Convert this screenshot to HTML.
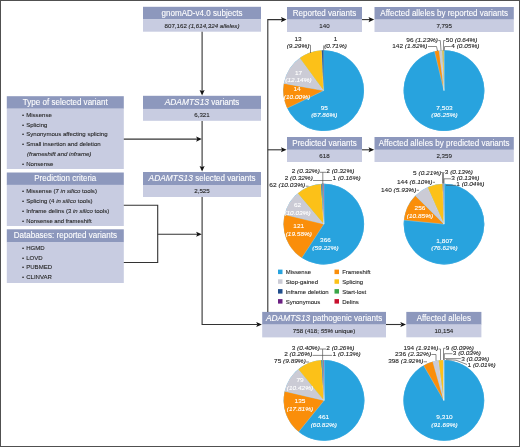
<!DOCTYPE html>
<html><head><meta charset="utf-8"><title>Figure</title>
<style>
html,body{margin:0;padding:0;background:#fff;}
body{width:520px;height:447px;overflow:hidden;position:relative;}
svg{display:block;position:absolute;left:0;top:0;font-family:"Liberation Sans",sans-serif;}
.frame{position:absolute;left:0;top:0;width:518px;height:445px;border:1px solid #505050;}
</style></head><body>
<svg width="520" height="447" viewBox="0 0 520 447">
<rect width="520" height="447" fill="#fff"/>
<rect x="143" y="6.8" width="118" height="12.599999999999998" fill="#8d98bd"/>
<rect x="143" y="19.2" width="118" height="12.5" fill="#c8cce1"/>
<text y="15.60" font-size="8.6" fill="#fff" stroke="#fff" stroke-width="0.1"><tspan x="161.56" textLength="80.88" lengthAdjust="spacingAndGlyphs">gnomAD-v4.0 subjects</tspan></text>
<text y="27.65" font-size="5.9" fill="#262626" stroke="#262626" stroke-width="0.1"><tspan x="164.55" textLength="22.34" lengthAdjust="spacingAndGlyphs">807,162</tspan> <tspan x="188.60" textLength="50.85" lengthAdjust="spacingAndGlyphs" font-style="italic">(1,614,324 alleles)</tspan></text>
<rect x="143" y="95.8" width="118" height="13.300000000000008" fill="#8d98bd"/>
<rect x="143" y="108.9" width="118" height="11.899999999999991" fill="#c8cce1"/>
<text y="104.95" font-size="8.6" fill="#fff" stroke="#fff" stroke-width="0.1"><tspan x="164.63" textLength="44.36" lengthAdjust="spacingAndGlyphs" font-style="italic">ADAMTS13</tspan> <tspan x="211.22" textLength="28.15" lengthAdjust="spacingAndGlyphs">variants</tspan></text>
<text y="117.05" font-size="5.9" fill="#262626" stroke="#262626" stroke-width="0.1"><tspan x="194.27" textLength="15.47" lengthAdjust="spacingAndGlyphs">6,321</tspan></text>
<rect x="143" y="172" width="118" height="13.2" fill="#8d98bd"/>
<rect x="143" y="185" width="118" height="12" fill="#c8cce1"/>
<text y="181.10" font-size="8.6" fill="#fff" stroke="#fff" stroke-width="0.1"><tspan x="148.54" textLength="44.36" lengthAdjust="spacingAndGlyphs" font-style="italic">ADAMTS13</tspan> <tspan x="195.13" textLength="60.33" lengthAdjust="spacingAndGlyphs">selected variants</tspan></text>
<text y="193.20" font-size="5.9" fill="#262626" stroke="#262626" stroke-width="0.1"><tspan x="194.27" textLength="15.47" lengthAdjust="spacingAndGlyphs">2,525</tspan></text>
<rect x="287" y="7" width="75" height="12.7" fill="#8d98bd"/>
<rect x="287" y="19.5" width="75" height="12.5" fill="#c8cce1"/>
<text y="15.85" font-size="8.6" fill="#fff" stroke="#fff" stroke-width="0.1"><tspan x="292.77" textLength="63.46" lengthAdjust="spacingAndGlyphs">Reported variants</tspan></text>
<text y="27.95" font-size="5.9" fill="#262626" stroke="#262626" stroke-width="0.1"><tspan x="319.34" textLength="10.31" lengthAdjust="spacingAndGlyphs">140</tspan></text>
<rect x="374.5" y="7" width="139.29999999999995" height="12.7" fill="#8d98bd"/>
<rect x="374.5" y="19.5" width="139.29999999999995" height="12.5" fill="#c8cce1"/>
<text y="15.85" font-size="8.6" fill="#fff" stroke="#fff" stroke-width="0.1"><tspan x="380.31" textLength="127.67" lengthAdjust="spacingAndGlyphs">Affected alleles by reported variants</tspan></text>
<text y="27.95" font-size="5.9" fill="#262626" stroke="#262626" stroke-width="0.1"><tspan x="436.42" textLength="15.47" lengthAdjust="spacingAndGlyphs">7,795</tspan></text>
<rect x="287" y="137" width="75" height="12.899999999999988" fill="#8d98bd"/>
<rect x="287" y="149.7" width="75" height="12.300000000000011" fill="#c8cce1"/>
<text y="145.95" font-size="8.6" fill="#fff" stroke="#fff" stroke-width="0.1"><tspan x="292.32" textLength="64.35" lengthAdjust="spacingAndGlyphs">Predicted variants</tspan></text>
<text y="158.05" font-size="5.9" fill="#262626" stroke="#262626" stroke-width="0.1"><tspan x="319.34" textLength="10.31" lengthAdjust="spacingAndGlyphs">618</tspan></text>
<rect x="374.5" y="137" width="139.29999999999995" height="12.899999999999988" fill="#8d98bd"/>
<rect x="374.5" y="149.7" width="139.29999999999995" height="12.300000000000011" fill="#c8cce1"/>
<text y="145.95" font-size="8.6" fill="#fff" stroke="#fff" stroke-width="0.1"><tspan x="378.75" textLength="130.80" lengthAdjust="spacingAndGlyphs">Affected alleles by predicted variants</tspan></text>
<text y="158.05" font-size="5.9" fill="#262626" stroke="#262626" stroke-width="0.1"><tspan x="436.42" textLength="15.47" lengthAdjust="spacingAndGlyphs">2,359</tspan></text>
<rect x="262.2" y="311.9" width="123.80000000000001" height="12.800000000000022" fill="#8d98bd"/>
<rect x="262.2" y="324.5" width="123.80000000000001" height="12.899999999999977" fill="#c8cce1"/>
<text y="320.80" font-size="8.6" fill="#fff" stroke="#fff" stroke-width="0.1"><tspan x="265.94" textLength="44.36" lengthAdjust="spacingAndGlyphs" font-style="italic">ADAMTS13</tspan> <tspan x="312.53" textLength="69.73" lengthAdjust="spacingAndGlyphs">pathogenic variants</tspan></text>
<text y="333.15" font-size="5.9" fill="#262626" stroke="#262626" stroke-width="0.1"><tspan x="292.83" textLength="26.11" lengthAdjust="spacingAndGlyphs">758 (418;</tspan> <tspan x="320.66" textLength="12.37" lengthAdjust="spacingAndGlyphs" font-style="italic">55%</tspan> <tspan x="334.75" textLength="20.62" lengthAdjust="spacingAndGlyphs">unique)</tspan></text>
<rect x="406.3" y="311.9" width="75.09999999999997" height="12.800000000000022" fill="#8d98bd"/>
<rect x="406.3" y="324.5" width="75.09999999999997" height="12.800000000000011" fill="#c8cce1"/>
<text y="320.80" font-size="8.6" fill="#fff" stroke="#fff" stroke-width="0.1"><tspan x="416.66" textLength="54.38" lengthAdjust="spacingAndGlyphs">Affected alleles</tspan></text>
<text y="333.10" font-size="5.9" fill="#262626" stroke="#262626" stroke-width="0.1"><tspan x="434.40" textLength="18.90" lengthAdjust="spacingAndGlyphs">10,154</tspan></text>
<rect x="6.8" y="96.2" width="117.0" height="12.59999999999999" fill="#8d98bd"/>
<rect x="6.8" y="108.6" width="117.0" height="60.400000000000006" fill="#c8cce1"/>
<text y="105.00" font-size="8.6" fill="#fff" stroke="#fff" stroke-width="0.1"><tspan x="22.84" textLength="84.91" lengthAdjust="spacingAndGlyphs">Type of selected variant</tspan></text>
<text y="117.00" font-size="5.9" fill="#262626" stroke="#262626" stroke-width="0.1"><tspan x="22.00" textLength="2.10" lengthAdjust="spacingAndGlyphs">•</tspan></text>
<text y="117.00" font-size="5.9" fill="#262626" stroke="#262626" stroke-width="0.1"><tspan x="26.20" textLength="25.60" lengthAdjust="spacingAndGlyphs">Missense</tspan></text>
<text y="126.70" font-size="5.9" fill="#262626" stroke="#262626" stroke-width="0.1"><tspan x="22.00" textLength="2.10" lengthAdjust="spacingAndGlyphs">•</tspan></text>
<text y="126.70" font-size="5.9" fill="#262626" stroke="#262626" stroke-width="0.1"><tspan x="26.20" textLength="21.22" lengthAdjust="spacingAndGlyphs">Splicing</tspan></text>
<text y="136.20" font-size="5.9" fill="#262626" stroke="#262626" stroke-width="0.1"><tspan x="22.00" textLength="2.10" lengthAdjust="spacingAndGlyphs">•</tspan></text>
<text y="136.20" font-size="5.9" fill="#262626" stroke="#262626" stroke-width="0.1"><tspan x="26.20" textLength="81.41" lengthAdjust="spacingAndGlyphs">Synonymous affecting splicing</tspan></text>
<text y="146.00" font-size="5.9" fill="#262626" stroke="#262626" stroke-width="0.1"><tspan x="22.00" textLength="2.10" lengthAdjust="spacingAndGlyphs">•</tspan></text>
<text y="146.00" font-size="5.9" fill="#262626" stroke="#262626" stroke-width="0.1"><tspan x="26.20" textLength="74.45" lengthAdjust="spacingAndGlyphs">Small insertion and deletion</tspan></text>
<text y="155.50" font-size="5.9" fill="#262626" stroke="#262626" stroke-width="0.1"><tspan x="27.00" textLength="64.33" lengthAdjust="spacingAndGlyphs" font-style="italic">(frameshift and inframe)</tspan></text>
<text y="165.50" font-size="5.9" fill="#262626" stroke="#262626" stroke-width="0.1"><tspan x="22.00" textLength="2.10" lengthAdjust="spacingAndGlyphs">•</tspan></text>
<text y="165.50" font-size="5.9" fill="#262626" stroke="#262626" stroke-width="0.1"><tspan x="26.20" textLength="27.29" lengthAdjust="spacingAndGlyphs">Nonsense</tspan></text>
<rect x="6.8" y="172.5" width="117.0" height="12.50000000000001" fill="#8d98bd"/>
<rect x="6.8" y="184.8" width="117.0" height="41.19999999999999" fill="#c8cce1"/>
<text y="181.25" font-size="8.6" fill="#fff" stroke="#fff" stroke-width="0.1"><tspan x="34.24" textLength="62.11" lengthAdjust="spacingAndGlyphs">Prediction criteria</tspan></text>
<text y="193.40" font-size="5.9" fill="#262626" stroke="#262626" stroke-width="0.1"><tspan x="22.00" textLength="2.10" lengthAdjust="spacingAndGlyphs">•</tspan></text>
<text y="193.40" font-size="5.9" fill="#262626" stroke="#262626" stroke-width="0.1"><tspan x="26.20" textLength="32.67" lengthAdjust="spacingAndGlyphs">Missense (7</tspan> <tspan x="60.55" textLength="19.87" lengthAdjust="spacingAndGlyphs" font-style="italic">in silico</tspan> <tspan x="82.10" textLength="14.82" lengthAdjust="spacingAndGlyphs">tools)</tspan></text>
<text y="202.90" font-size="5.9" fill="#262626" stroke="#262626" stroke-width="0.1"><tspan x="22.00" textLength="2.10" lengthAdjust="spacingAndGlyphs">•</tspan></text>
<text y="202.90" font-size="5.9" fill="#262626" stroke="#262626" stroke-width="0.1"><tspan x="26.20" textLength="28.29" lengthAdjust="spacingAndGlyphs">Splicing (4</tspan> <tspan x="56.18" textLength="19.87" lengthAdjust="spacingAndGlyphs" font-style="italic">in silico</tspan> <tspan x="77.73" textLength="14.82" lengthAdjust="spacingAndGlyphs">tools)</tspan></text>
<text y="212.70" font-size="5.9" fill="#262626" stroke="#262626" stroke-width="0.1"><tspan x="22.00" textLength="2.10" lengthAdjust="spacingAndGlyphs">•</tspan></text>
<text y="212.70" font-size="5.9" fill="#262626" stroke="#262626" stroke-width="0.1"><tspan x="26.20" textLength="45.13" lengthAdjust="spacingAndGlyphs">Inframe delins (3</tspan> <tspan x="73.02" textLength="19.87" lengthAdjust="spacingAndGlyphs" font-style="italic">in silico</tspan> <tspan x="94.57" textLength="14.82" lengthAdjust="spacingAndGlyphs">tools)</tspan></text>
<text y="222.50" font-size="5.9" fill="#262626" stroke="#262626" stroke-width="0.1"><tspan x="22.00" textLength="2.10" lengthAdjust="spacingAndGlyphs">•</tspan></text>
<text y="222.50" font-size="5.9" fill="#262626" stroke="#262626" stroke-width="0.1"><tspan x="26.20" textLength="65.35" lengthAdjust="spacingAndGlyphs">Nonsense and frameshift</tspan></text>
<rect x="6.8" y="229.3" width="117.0" height="12.899999999999988" fill="#8d98bd"/>
<rect x="6.8" y="242" width="117.0" height="41" fill="#c8cce1"/>
<text y="238.25" font-size="8.6" fill="#fff" stroke="#fff" stroke-width="0.1"><tspan x="13.68" textLength="103.24" lengthAdjust="spacingAndGlyphs">Databases: reported variants</tspan></text>
<text y="249.70" font-size="5.9" fill="#262626" stroke="#262626" stroke-width="0.1"><tspan x="22.00" textLength="2.10" lengthAdjust="spacingAndGlyphs">•</tspan></text>
<text y="249.70" font-size="5.9" fill="#262626" stroke="#262626" stroke-width="0.1"><tspan x="26.20" textLength="18.51" lengthAdjust="spacingAndGlyphs">HGMD</tspan></text>
<text y="259.70" font-size="5.9" fill="#262626" stroke="#262626" stroke-width="0.1"><tspan x="22.00" textLength="2.10" lengthAdjust="spacingAndGlyphs">•</tspan></text>
<text y="259.70" font-size="5.9" fill="#262626" stroke="#262626" stroke-width="0.1"><tspan x="26.20" textLength="16.50" lengthAdjust="spacingAndGlyphs">LOVD</tspan></text>
<text y="269.20" font-size="5.9" fill="#262626" stroke="#262626" stroke-width="0.1"><tspan x="22.00" textLength="2.10" lengthAdjust="spacingAndGlyphs">•</tspan></text>
<text y="269.20" font-size="5.9" fill="#262626" stroke="#262626" stroke-width="0.1"><tspan x="26.20" textLength="25.93" lengthAdjust="spacingAndGlyphs">PUBMED</tspan></text>
<text y="279.00" font-size="5.9" fill="#262626" stroke="#262626" stroke-width="0.1"><tspan x="22.00" textLength="2.10" lengthAdjust="spacingAndGlyphs">•</tspan></text>
<text y="279.00" font-size="5.9" fill="#262626" stroke="#262626" stroke-width="0.1"><tspan x="26.20" textLength="25.82" lengthAdjust="spacingAndGlyphs">CLINVAR</tspan></text>
<path d="M202.1 31.7 L202.1 92" fill="none" stroke="#333" stroke-width="1.1"/>
<polygon points="202.1,95.6 199.54999999999998,89.89999999999999 202.1,91.1 204.65,89.89999999999999" fill="#141414"/>
<path d="M202.1 121 L202.1 168" fill="none" stroke="#333" stroke-width="1.1"/>
<polygon points="202.1,171.6 199.54999999999998,165.9 202.1,167.1 204.65,165.9" fill="#141414"/>
<path d="M123.8 139.1 L198.1 139.1" fill="none" stroke="#333" stroke-width="1.1"/>
<polygon points="201.79999999999998,139.1 196.1,136.54999999999998 197.29999999999998,139.1 196.1,141.65" fill="#141414"/>
<path d="M202.1 197 L202.1 324.5 L257.5 324.5" fill="none" stroke="#333" stroke-width="1.1"/>
<polygon points="261.9,324.5 256.2,321.95 257.4,324.5 256.2,327.05" fill="#141414"/>
<path d="M123.8 205.3 L157.7 205.3 L157.7 262.5 L123.8 262.5" fill="none" stroke="#333" stroke-width="1.1"/>
<path d="M157.7 234.3 L198.1 234.3" fill="none" stroke="#333" stroke-width="1.1"/>
<polygon points="201.79999999999998,234.3 196.1,231.75 197.29999999999998,234.3 196.1,236.85000000000002" fill="#141414"/>
<path d="M282 19.6 L267.8 19.6 L267.8 311.9" fill="none" stroke="#333" stroke-width="1.1"/>
<polygon points="286.6,19.6 280.90000000000003,17.05 282.1,19.6 280.90000000000003,22.150000000000002" fill="#141414"/>
<path d="M267.8 149.8 L282 149.8" fill="none" stroke="#333" stroke-width="1.1"/>
<polygon points="286.6,149.8 280.90000000000003,147.25 282.1,149.8 280.90000000000003,152.35000000000002" fill="#141414"/>
<path d="M362 19.6 L370 19.6" fill="none" stroke="#333" stroke-width="1.1"/>
<polygon points="374.2,19.6 368.5,17.05 369.7,19.6 368.5,22.150000000000002" fill="#141414"/>
<path d="M362 149.8 L370 149.8" fill="none" stroke="#333" stroke-width="1.1"/>
<polygon points="374.2,149.8 368.5,147.25 369.7,149.8 368.5,152.35000000000002" fill="#141414"/>
<path d="M386 324.5 L401 324.5" fill="none" stroke="#333" stroke-width="1.1"/>
<polygon points="406,324.5 400.3,321.95 401.5,324.5 400.3,327.05" fill="#141414"/>
<circle cx="323.6" cy="90.6" r="40.4" fill="#28a3de"/>
<path d="M323.6 90.6 L323.60 50.20 A40.4 40.4 0 1 1 287.20 108.13 Z" fill="#28a3de" stroke="#fff" stroke-opacity="0.6" stroke-width="0.25"/>
<path d="M323.6 90.6 L287.20 108.13 A40.4 40.4 0 0 1 283.85 83.39 Z" fill="#fa8e0a" stroke="#fff" stroke-opacity="0.6" stroke-width="0.25"/>
<path d="M323.6 90.6 L283.85 83.39 A40.4 40.4 0 0 1 299.85 57.92 Z" fill="#cbcbd5" stroke="#fff" stroke-opacity="0.6" stroke-width="0.25"/>
<path d="M323.6 90.6 L299.85 57.92 A40.4 40.4 0 0 1 321.79 50.24 Z" fill="#fcc118" stroke="#fff" stroke-opacity="0.6" stroke-width="0.25"/>
<path d="M323.6 90.6 L321.79 50.24 A40.4 40.4 0 0 1 323.60 50.20 Z" fill="#1f4e8c" stroke="#fff" stroke-opacity="0.6" stroke-width="0.25"/>
<text y="109.60" font-size="5.9" fill="#fff" stroke="#fff" stroke-width="0.1"><tspan x="320.70" textLength="7.21" lengthAdjust="spacingAndGlyphs">95</tspan></text>
<text y="117.40" font-size="5.9" fill="#fff" stroke="#fff" stroke-width="0.1"><tspan x="311.15" textLength="26.29" lengthAdjust="spacingAndGlyphs" font-style="italic">(67.86%)</tspan></text>
<text y="91.40" font-size="5.9" fill="#fff" stroke="#fff" stroke-width="0.1"><tspan x="293.40" textLength="7.21" lengthAdjust="spacingAndGlyphs">14</tspan></text>
<text y="99.20" font-size="5.9" fill="#fff" stroke="#fff" stroke-width="0.1"><tspan x="283.85" textLength="26.29" lengthAdjust="spacingAndGlyphs" font-style="italic">(10.00%)</tspan></text>
<text y="74.60" font-size="5.9" fill="#fff" stroke="#fff" stroke-width="0.1"><tspan x="294.90" textLength="7.21" lengthAdjust="spacingAndGlyphs">17</tspan></text>
<text y="82.40" font-size="5.9" fill="#fff" stroke="#fff" stroke-width="0.1"><tspan x="285.35" textLength="26.29" lengthAdjust="spacingAndGlyphs" font-style="italic">(12.14%)</tspan></text>
<text y="41.10" font-size="5.9" fill="#262626" stroke="#262626" stroke-width="0.1"><tspan x="294.40" textLength="7.21" lengthAdjust="spacingAndGlyphs">13</tspan></text>
<text y="48.20" font-size="5.9" fill="#262626" stroke="#262626" stroke-width="0.1"><tspan x="286.66" textLength="22.69" lengthAdjust="spacingAndGlyphs" font-style="italic">(9.29%)</tspan></text>
<text y="41.10" font-size="5.9" fill="#262626" stroke="#262626" stroke-width="0.1"><tspan x="333.70" textLength="3.60" lengthAdjust="spacingAndGlyphs">1</tspan></text>
<text y="48.20" font-size="5.9" fill="#262626" stroke="#262626" stroke-width="0.1"><tspan x="324.16" textLength="22.69" lengthAdjust="spacingAndGlyphs" font-style="italic">(0.71%)</tspan></text>
<path d="M308.8 44.8 L310.5 45.3 L310.5 53" fill="none" stroke="#4a4a4a" stroke-width="0.65"/>
<path d="M323.7 45.4 L323.7 50.5" fill="none" stroke="#4a4a4a" stroke-width="0.65"/>
<circle cx="444" cy="90.6" r="40.4" fill="#28a3de"/>
<path d="M444 90.6 L444.00 50.20 A40.4 40.4 0 1 1 434.58 51.31 Z" fill="#28a3de" stroke="#fff" stroke-opacity="0.6" stroke-width="0.25"/>
<path d="M444 90.6 L434.58 51.31 A40.4 40.4 0 0 1 439.13 50.49 Z" fill="#fa8e0a" stroke="#fff" stroke-opacity="0.6" stroke-width="0.25"/>
<path d="M444 90.6 L439.13 50.49 A40.4 40.4 0 0 1 442.24 50.24 Z" fill="#cbcbd5" stroke="#fff" stroke-opacity="0.6" stroke-width="0.25"/>
<path d="M444 90.6 L442.24 50.24 A40.4 40.4 0 0 1 443.87 50.20 Z" fill="#fcc118" stroke="#fff" stroke-opacity="0.6" stroke-width="0.25"/>
<path d="M444 90.6 L443.87 50.20 A40.4 40.4 0 0 1 444.00 50.20 Z" fill="#1f4e8c" stroke="#fff" stroke-opacity="0.6" stroke-width="0.25"/>
<text y="109.60" font-size="5.9" fill="#fff" stroke="#fff" stroke-width="0.1"><tspan x="436.39" textLength="16.22" lengthAdjust="spacingAndGlyphs">7,503</tspan></text>
<text y="117.40" font-size="5.9" fill="#fff" stroke="#fff" stroke-width="0.1"><tspan x="431.35" textLength="26.29" lengthAdjust="spacingAndGlyphs" font-style="italic">(96.25%)</tspan></text>
<text y="41.80" font-size="5.9" fill="#262626" stroke="#262626" stroke-width="0.1"><tspan x="406.30" textLength="7.21" lengthAdjust="spacingAndGlyphs">96</tspan> <tspan x="415.31" textLength="22.69" lengthAdjust="spacingAndGlyphs" font-style="italic">(1.23%)</tspan></text>
<text y="48.10" font-size="5.9" fill="#262626" stroke="#262626" stroke-width="0.1"><tspan x="392.20" textLength="10.81" lengthAdjust="spacingAndGlyphs">142</tspan> <tspan x="404.81" textLength="22.69" lengthAdjust="spacingAndGlyphs" font-style="italic">(1.82%)</tspan></text>
<text y="41.80" font-size="5.9" fill="#262626" stroke="#262626" stroke-width="0.1"><tspan x="445.80" textLength="7.21" lengthAdjust="spacingAndGlyphs">50</tspan> <tspan x="454.81" textLength="22.69" lengthAdjust="spacingAndGlyphs" font-style="italic">(0.64%)</tspan></text>
<text y="48.10" font-size="5.9" fill="#262626" stroke="#262626" stroke-width="0.1"><tspan x="451.30" textLength="3.60" lengthAdjust="spacingAndGlyphs">4</tspan> <tspan x="456.70" textLength="22.69" lengthAdjust="spacingAndGlyphs" font-style="italic">(0.05%)</tspan></text>
<path d="M428 46.5 L436.5 46.5 L437.5 51" fill="none" stroke="#4a4a4a" stroke-width="0.65"/>
<path d="M438.3 40.5 L440.3 40.5 L441 50.5" fill="none" stroke="#4a4a4a" stroke-width="0.65"/>
<path d="M445.5 40.5 L443.6 40.5 L443.4 50.5" fill="none" stroke="#4a4a4a" stroke-width="0.65"/>
<path d="M450.8 46.5 L444.6 46.5 L444.3 50.5" fill="none" stroke="#4a4a4a" stroke-width="0.65"/>
<circle cx="323.8" cy="224.1" r="40.3" fill="#28a3de"/>
<path d="M323.8 224.1 L323.80 183.80 A40.3 40.3 0 1 1 301.73 257.82 Z" fill="#28a3de" stroke="#fff" stroke-opacity="0.6" stroke-width="0.25"/>
<path d="M323.8 224.1 L301.73 257.82 A40.3 40.3 0 0 1 284.64 214.56 Z" fill="#fa8e0a" stroke="#fff" stroke-opacity="0.6" stroke-width="0.25"/>
<path d="M323.8 224.1 L284.64 214.56 A40.3 40.3 0 0 1 297.79 193.32 Z" fill="#cbcbd5" stroke="#fff" stroke-opacity="0.6" stroke-width="0.25"/>
<path d="M323.8 224.1 L297.79 193.32 A40.3 40.3 0 0 1 320.93 183.90 Z" fill="#fcc118" stroke="#fff" stroke-opacity="0.6" stroke-width="0.25"/>
<path d="M323.8 224.1 L320.93 183.90 A40.3 40.3 0 0 1 321.75 183.85 Z" fill="#1f4e8c" stroke="#fff" stroke-opacity="0.6" stroke-width="0.25"/>
<path d="M323.8 224.1 L321.75 183.85 A40.3 40.3 0 0 1 322.57 183.82 Z" fill="#3aa648" stroke="#fff" stroke-opacity="0.6" stroke-width="0.25"/>
<path d="M323.8 224.1 L322.57 183.82 A40.3 40.3 0 0 1 323.39 183.80 Z" fill="#6b2082" stroke="#fff" stroke-opacity="0.6" stroke-width="0.25"/>
<path d="M323.8 224.1 L323.39 183.80 A40.3 40.3 0 0 1 323.80 183.80 Z" fill="#c8102e" stroke="#fff" stroke-opacity="0.6" stroke-width="0.25"/>
<text y="242.20" font-size="5.9" fill="#fff" stroke="#fff" stroke-width="0.1"><tspan x="320.09" textLength="10.81" lengthAdjust="spacingAndGlyphs">366</tspan></text>
<text y="250.00" font-size="5.9" fill="#fff" stroke="#fff" stroke-width="0.1"><tspan x="312.35" textLength="26.29" lengthAdjust="spacingAndGlyphs" font-style="italic">(59.22%)</tspan></text>
<text y="227.90" font-size="5.9" fill="#fff" stroke="#fff" stroke-width="0.1"><tspan x="293.39" textLength="10.81" lengthAdjust="spacingAndGlyphs">121</tspan></text>
<text y="235.70" font-size="5.9" fill="#fff" stroke="#fff" stroke-width="0.1"><tspan x="285.65" textLength="26.29" lengthAdjust="spacingAndGlyphs" font-style="italic">(19.58%)</tspan></text>
<text y="207.40" font-size="5.9" fill="#fff" stroke="#fff" stroke-width="0.1"><tspan x="293.90" textLength="7.21" lengthAdjust="spacingAndGlyphs">62</tspan></text>
<text y="215.20" font-size="5.9" fill="#fff" stroke="#fff" stroke-width="0.1"><tspan x="284.35" textLength="26.29" lengthAdjust="spacingAndGlyphs" font-style="italic">(10.03%)</tspan></text>
<text y="173.30" font-size="5.9" fill="#262626" stroke="#262626" stroke-width="0.1"><tspan x="291.71" textLength="3.60" lengthAdjust="spacingAndGlyphs">2</tspan> <tspan x="297.11" textLength="22.69" lengthAdjust="spacingAndGlyphs" font-style="italic">(0.32%)</tspan></text>
<text y="173.30" font-size="5.9" fill="#262626" stroke="#262626" stroke-width="0.1"><tspan x="326.30" textLength="3.60" lengthAdjust="spacingAndGlyphs">2</tspan> <tspan x="331.70" textLength="22.69" lengthAdjust="spacingAndGlyphs" font-style="italic">(0.32%)</tspan></text>
<text y="180.20" font-size="5.9" fill="#262626" stroke="#262626" stroke-width="0.1"><tspan x="284.71" textLength="3.60" lengthAdjust="spacingAndGlyphs">2</tspan> <tspan x="290.11" textLength="22.69" lengthAdjust="spacingAndGlyphs" font-style="italic">(0.32%)</tspan></text>
<text y="180.20" font-size="5.9" fill="#262626" stroke="#262626" stroke-width="0.1"><tspan x="332.50" textLength="3.60" lengthAdjust="spacingAndGlyphs">1</tspan> <tspan x="337.90" textLength="22.69" lengthAdjust="spacingAndGlyphs" font-style="italic">(0.16%)</tspan></text>
<text y="187.40" font-size="5.9" fill="#262626" stroke="#262626" stroke-width="0.1"><tspan x="269.30" textLength="7.35" lengthAdjust="spacingAndGlyphs">62</tspan> <tspan x="278.49" textLength="26.81" lengthAdjust="spacingAndGlyphs" font-style="italic">(10.03%)</tspan></text>
<path d="M320 172.3 L326 172.3" fill="none" stroke="#4a4a4a" stroke-width="0.65"/>
<path d="M313 180.5 L332 180.5" fill="none" stroke="#4a4a4a" stroke-width="0.65"/>
<path d="M322.8 172.3 L322.8 184" fill="none" stroke="#4a4a4a" stroke-width="0.65"/>
<path d="M305.8 186.2 L308.5 186.2" fill="none" stroke="#4a4a4a" stroke-width="0.65"/>
<circle cx="444" cy="224.1" r="40.3" fill="#28a3de"/>
<path d="M444 224.1 L444.00 183.80 A40.3 40.3 0 1 1 403.90 220.05 Z" fill="#28a3de" stroke="#fff" stroke-opacity="0.6" stroke-width="0.25"/>
<path d="M444 224.1 L403.90 220.05 A40.3 40.3 0 0 1 415.42 195.69 Z" fill="#fa8e0a" stroke="#fff" stroke-opacity="0.6" stroke-width="0.25"/>
<path d="M444 224.1 L415.42 195.69 A40.3 40.3 0 0 1 427.73 187.23 Z" fill="#cbcbd5" stroke="#fff" stroke-opacity="0.6" stroke-width="0.25"/>
<path d="M444 224.1 L427.73 187.23 A40.3 40.3 0 0 1 442.71 183.82 Z" fill="#fcc118" stroke="#fff" stroke-opacity="0.6" stroke-width="0.25"/>
<path d="M444 224.1 L442.71 183.82 A40.3 40.3 0 0 1 443.25 183.81 Z" fill="#1f4e8c" stroke="#fff" stroke-opacity="0.6" stroke-width="0.25"/>
<path d="M444 224.1 L443.25 183.81 A40.3 40.3 0 0 1 443.57 183.80 Z" fill="#3aa648" stroke="#fff" stroke-opacity="0.6" stroke-width="0.25"/>
<path d="M444 224.1 L443.57 183.80 A40.3 40.3 0 0 1 443.89 183.80 Z" fill="#6b2082" stroke="#fff" stroke-opacity="0.6" stroke-width="0.25"/>
<path d="M444 224.1 L443.89 183.80 A40.3 40.3 0 0 1 444.00 183.80 Z" fill="#c8102e" stroke="#fff" stroke-opacity="0.6" stroke-width="0.25"/>
<text y="242.60" font-size="5.9" fill="#fff" stroke="#fff" stroke-width="0.1"><tspan x="436.39" textLength="16.22" lengthAdjust="spacingAndGlyphs">1,807</tspan></text>
<text y="250.40" font-size="5.9" fill="#fff" stroke="#fff" stroke-width="0.1"><tspan x="431.35" textLength="26.29" lengthAdjust="spacingAndGlyphs" font-style="italic">(76.62%)</tspan></text>
<text y="210.10" font-size="5.9" fill="#fff" stroke="#fff" stroke-width="0.1"><tspan x="414.59" textLength="10.81" lengthAdjust="spacingAndGlyphs">256</tspan></text>
<text y="217.90" font-size="5.9" fill="#fff" stroke="#fff" stroke-width="0.1"><tspan x="406.85" textLength="26.29" lengthAdjust="spacingAndGlyphs" font-style="italic">(10.85%)</tspan></text>
<text y="174.80" font-size="5.9" fill="#262626" stroke="#262626" stroke-width="0.1"><tspan x="413.11" textLength="3.60" lengthAdjust="spacingAndGlyphs">5</tspan> <tspan x="418.51" textLength="22.69" lengthAdjust="spacingAndGlyphs" font-style="italic">(0.21%)</tspan></text>
<text y="173.60" font-size="5.9" fill="#262626" stroke="#262626" stroke-width="0.1"><tspan x="444.80" textLength="3.60" lengthAdjust="spacingAndGlyphs">3</tspan> <tspan x="450.20" textLength="22.69" lengthAdjust="spacingAndGlyphs" font-style="italic">(0.13%)</tspan></text>
<text y="180.10" font-size="5.9" fill="#262626" stroke="#262626" stroke-width="0.1"><tspan x="451.30" textLength="3.60" lengthAdjust="spacingAndGlyphs">3</tspan> <tspan x="456.70" textLength="22.69" lengthAdjust="spacingAndGlyphs" font-style="italic">(0.13%)</tspan></text>
<text y="186.30" font-size="5.9" fill="#262626" stroke="#262626" stroke-width="0.1"><tspan x="456.30" textLength="3.60" lengthAdjust="spacingAndGlyphs">1</tspan> <tspan x="461.70" textLength="22.69" lengthAdjust="spacingAndGlyphs" font-style="italic">(0.04%)</tspan></text>
<text y="184.00" font-size="5.9" fill="#262626" stroke="#262626" stroke-width="0.1"><tspan x="396.90" textLength="10.90" lengthAdjust="spacingAndGlyphs">144</tspan> <tspan x="409.62" textLength="22.88" lengthAdjust="spacingAndGlyphs" font-style="italic">(6.10%)</tspan></text>
<text y="191.60" font-size="5.9" fill="#262626" stroke="#262626" stroke-width="0.1"><tspan x="381.00" textLength="10.81" lengthAdjust="spacingAndGlyphs">140</tspan> <tspan x="393.61" textLength="22.69" lengthAdjust="spacingAndGlyphs" font-style="italic">(5.93%)</tspan></text>
<path d="M441 172.5 L442.5 172.5 L442.5 183.5" fill="none" stroke="#4a4a4a" stroke-width="0.65"/>
<path d="M444.5 172.5 L443.5 172.5 L443.5 183.5" fill="none" stroke="#4a4a4a" stroke-width="0.65"/>
<path d="M451 178.8 L444 178.8 L444 183.5" fill="none" stroke="#4a4a4a" stroke-width="0.65"/>
<path d="M456 185.3 L446 185.3" fill="none" stroke="#4a4a4a" stroke-width="0.65"/>
<path d="M432.8 182.3 L435 182.3" fill="none" stroke="#4a4a4a" stroke-width="0.65"/>
<path d="M416.6 190.3 L419 190.3" fill="none" stroke="#4a4a4a" stroke-width="0.65"/>
<circle cx="324" cy="400.4" r="40.4" fill="#28a3de"/>
<path d="M324 400.4 L324.00 360.00 A40.4 40.4 0 1 1 298.61 431.82 Z" fill="#28a3de" stroke="#fff" stroke-opacity="0.6" stroke-width="0.25"/>
<path d="M324 400.4 L298.61 431.82 A40.4 40.4 0 0 1 284.65 391.27 Z" fill="#fa8e0a" stroke="#fff" stroke-opacity="0.6" stroke-width="0.25"/>
<path d="M324 400.4 L284.65 391.27 A40.4 40.4 0 0 1 298.35 369.19 Z" fill="#cbcbd5" stroke="#fff" stroke-opacity="0.6" stroke-width="0.25"/>
<path d="M324 400.4 L298.35 369.19 A40.4 40.4 0 0 1 321.32 360.09 Z" fill="#fcc118" stroke="#fff" stroke-opacity="0.6" stroke-width="0.25"/>
<path d="M324 400.4 L321.32 360.09 A40.4 40.4 0 0 1 322.33 360.03 Z" fill="#1f4e8c" stroke="#fff" stroke-opacity="0.6" stroke-width="0.25"/>
<path d="M324 400.4 L322.33 360.03 A40.4 40.4 0 0 1 323.00 360.01 Z" fill="#3aa648" stroke="#fff" stroke-opacity="0.6" stroke-width="0.25"/>
<path d="M324 400.4 L323.00 360.01 A40.4 40.4 0 0 1 323.67 360.00 Z" fill="#6b2082" stroke="#fff" stroke-opacity="0.6" stroke-width="0.25"/>
<path d="M324 400.4 L323.67 360.00 A40.4 40.4 0 0 1 324.00 360.00 Z" fill="#c8102e" stroke="#fff" stroke-opacity="0.6" stroke-width="0.25"/>
<text y="419.10" font-size="5.9" fill="#fff" stroke="#fff" stroke-width="0.1"><tspan x="318.39" textLength="10.81" lengthAdjust="spacingAndGlyphs">461</tspan></text>
<text y="426.90" font-size="5.9" fill="#fff" stroke="#fff" stroke-width="0.1"><tspan x="310.65" textLength="26.29" lengthAdjust="spacingAndGlyphs" font-style="italic">(60.82%)</tspan></text>
<text y="402.90" font-size="5.9" fill="#fff" stroke="#fff" stroke-width="0.1"><tspan x="294.59" textLength="10.81" lengthAdjust="spacingAndGlyphs">135</tspan></text>
<text y="410.70" font-size="5.9" fill="#fff" stroke="#fff" stroke-width="0.1"><tspan x="286.85" textLength="26.29" lengthAdjust="spacingAndGlyphs" font-style="italic">(17.81%)</tspan></text>
<text y="382.40" font-size="5.9" fill="#fff" stroke="#fff" stroke-width="0.1"><tspan x="296.40" textLength="7.21" lengthAdjust="spacingAndGlyphs">79</tspan></text>
<text y="390.20" font-size="5.9" fill="#fff" stroke="#fff" stroke-width="0.1"><tspan x="286.85" textLength="26.29" lengthAdjust="spacingAndGlyphs" font-style="italic">(10.42%)</tspan></text>
<text y="350.10" font-size="5.9" fill="#262626" stroke="#262626" stroke-width="0.1"><tspan x="291.71" textLength="3.60" lengthAdjust="spacingAndGlyphs">3</tspan> <tspan x="297.11" textLength="22.69" lengthAdjust="spacingAndGlyphs" font-style="italic">(0.40%)</tspan></text>
<text y="350.10" font-size="5.9" fill="#262626" stroke="#262626" stroke-width="0.1"><tspan x="326.30" textLength="3.60" lengthAdjust="spacingAndGlyphs">2</tspan> <tspan x="331.70" textLength="22.69" lengthAdjust="spacingAndGlyphs" font-style="italic">(0.26%)</tspan></text>
<text y="356.20" font-size="5.9" fill="#262626" stroke="#262626" stroke-width="0.1"><tspan x="284.21" textLength="3.60" lengthAdjust="spacingAndGlyphs">2</tspan> <tspan x="289.61" textLength="22.69" lengthAdjust="spacingAndGlyphs" font-style="italic">(0.26%)</tspan></text>
<text y="356.20" font-size="5.9" fill="#262626" stroke="#262626" stroke-width="0.1"><tspan x="332.50" textLength="3.60" lengthAdjust="spacingAndGlyphs">1</tspan> <tspan x="337.90" textLength="22.69" lengthAdjust="spacingAndGlyphs" font-style="italic">(0.13%)</tspan></text>
<text y="363.20" font-size="5.9" fill="#262626" stroke="#262626" stroke-width="0.1"><tspan x="274.10" textLength="7.21" lengthAdjust="spacingAndGlyphs">75</tspan> <tspan x="283.11" textLength="22.69" lengthAdjust="spacingAndGlyphs" font-style="italic">(9.89%)</tspan></text>
<path d="M320 349 L326 349" fill="none" stroke="#4a4a4a" stroke-width="0.65"/>
<path d="M312.6 355.4 L332 355.4" fill="none" stroke="#4a4a4a" stroke-width="0.65"/>
<path d="M322.6 349 L322.6 360" fill="none" stroke="#4a4a4a" stroke-width="0.65"/>
<path d="M306 362 L309 362" fill="none" stroke="#4a4a4a" stroke-width="0.65"/>
<circle cx="443.8" cy="400.4" r="40.4" fill="#28a3de"/>
<path d="M443.8 400.4 L443.80 360.00 A40.4 40.4 0 1 1 423.65 365.39 Z" fill="#28a3de" stroke="#fff" stroke-opacity="0.6" stroke-width="0.25"/>
<path d="M443.8 400.4 L423.65 365.39 A40.4 40.4 0 0 1 432.79 361.53 Z" fill="#fa8e0a" stroke="#fff" stroke-opacity="0.6" stroke-width="0.25"/>
<path d="M443.8 400.4 L432.79 361.53 A40.4 40.4 0 0 1 438.56 360.34 Z" fill="#cbcbd5" stroke="#fff" stroke-opacity="0.6" stroke-width="0.25"/>
<path d="M443.8 400.4 L438.56 360.34 A40.4 40.4 0 0 1 443.40 360.00 Z" fill="#fcc118" stroke="#fff" stroke-opacity="0.6" stroke-width="0.25"/>
<path d="M443.8 400.4 L443.40 360.00 A40.4 40.4 0 0 1 443.63 360.00 Z" fill="#1f4e8c" stroke="#fff" stroke-opacity="0.6" stroke-width="0.25"/>
<path d="M443.8 400.4 L443.63 360.00 A40.4 40.4 0 0 1 443.70 360.00 Z" fill="#3aa648" stroke="#fff" stroke-opacity="0.6" stroke-width="0.25"/>
<path d="M443.8 400.4 L443.70 360.00 A40.4 40.4 0 0 1 443.78 360.00 Z" fill="#6b2082" stroke="#fff" stroke-opacity="0.6" stroke-width="0.25"/>
<path d="M443.8 400.4 L443.78 360.00 A40.4 40.4 0 0 1 443.80 360.00 Z" fill="#c8102e" stroke="#fff" stroke-opacity="0.6" stroke-width="0.25"/>
<text y="419.40" font-size="5.9" fill="#fff" stroke="#fff" stroke-width="0.1"><tspan x="436.39" textLength="16.22" lengthAdjust="spacingAndGlyphs">9,310</tspan></text>
<text y="427.20" font-size="5.9" fill="#fff" stroke="#fff" stroke-width="0.1"><tspan x="431.35" textLength="26.29" lengthAdjust="spacingAndGlyphs" font-style="italic">(91.69%)</tspan></text>
<text y="350.20" font-size="5.9" fill="#262626" stroke="#262626" stroke-width="0.1"><tspan x="403.50" textLength="10.66" lengthAdjust="spacingAndGlyphs">194</tspan> <tspan x="415.93" textLength="22.37" lengthAdjust="spacingAndGlyphs" font-style="italic">(1.91%)</tspan></text>
<text y="349.70" font-size="5.9" fill="#262626" stroke="#262626" stroke-width="0.1"><tspan x="445.80" textLength="3.60" lengthAdjust="spacingAndGlyphs">9</tspan> <tspan x="451.20" textLength="22.69" lengthAdjust="spacingAndGlyphs" font-style="italic">(0.09%)</tspan></text>
<text y="355.60" font-size="5.9" fill="#262626" stroke="#262626" stroke-width="0.1"><tspan x="395.10" textLength="11.03" lengthAdjust="spacingAndGlyphs">236</tspan> <tspan x="407.96" textLength="23.14" lengthAdjust="spacingAndGlyphs" font-style="italic">(2.32%)</tspan></text>
<text y="354.80" font-size="5.9" fill="#262626" stroke="#262626" stroke-width="0.1"><tspan x="452.80" textLength="3.60" lengthAdjust="spacingAndGlyphs">3</tspan> <tspan x="458.20" textLength="22.69" lengthAdjust="spacingAndGlyphs" font-style="italic">(0.03%)</tspan></text>
<text y="363.00" font-size="5.9" fill="#262626" stroke="#262626" stroke-width="0.1"><tspan x="388.20" textLength="10.75" lengthAdjust="spacingAndGlyphs">398</tspan> <tspan x="400.74" textLength="22.56" lengthAdjust="spacingAndGlyphs" font-style="italic">(3.92%)</tspan></text>
<text y="360.50" font-size="5.9" fill="#262626" stroke="#262626" stroke-width="0.1"><tspan x="461.20" textLength="3.60" lengthAdjust="spacingAndGlyphs">3</tspan> <tspan x="466.60" textLength="22.69" lengthAdjust="spacingAndGlyphs" font-style="italic">(0.03%)</tspan></text>
<text y="366.60" font-size="5.9" fill="#262626" stroke="#262626" stroke-width="0.1"><tspan x="467.50" textLength="3.60" lengthAdjust="spacingAndGlyphs">1</tspan> <tspan x="472.90" textLength="22.69" lengthAdjust="spacingAndGlyphs" font-style="italic">(0.01%)</tspan></text>
<path d="M438.6 349 L440.5 349 L440.5 360" fill="none" stroke="#4a4a4a" stroke-width="0.65"/>
<path d="M445.5 348.3 L443.5 348.3 L443.5 360" fill="none" stroke="#4a4a4a" stroke-width="0.65"/>
<path d="M431.4 354.5 L436 354.5 L436 360.6" fill="none" stroke="#4a4a4a" stroke-width="0.65"/>
<path d="M452.4 353.7 L444.3 353.7 L444.3 360" fill="none" stroke="#4a4a4a" stroke-width="0.65"/>
<path d="M423.6 361.8 L427 361.8" fill="none" stroke="#4a4a4a" stroke-width="0.65"/>
<path d="M460.8 358.6 L444.8 358.6" fill="none" stroke="#4a4a4a" stroke-width="0.65"/>
<path d="M467 364.5 L456 360.2 L446 359.6" fill="none" stroke="#4a4a4a" stroke-width="0.65"/>
<rect x="278" y="269.6" width="4.5" height="4.5" fill="#28a3de"/>
<text y="274.00" font-size="5.9" fill="#262626" stroke="#262626" stroke-width="0.1"><tspan x="285.70" textLength="25.34" lengthAdjust="spacingAndGlyphs">Missense</tspan></text>
<rect x="278" y="279.3" width="4.5" height="4.5" fill="#cbcbd5"/>
<text y="283.70" font-size="5.9" fill="#262626" stroke="#262626" stroke-width="0.1"><tspan x="285.70" textLength="32.36" lengthAdjust="spacingAndGlyphs">Stop-gained</tspan></text>
<rect x="278" y="289.1" width="4.5" height="4.5" fill="#1f4e8c"/>
<text y="293.50" font-size="5.9" fill="#262626" stroke="#262626" stroke-width="0.1"><tspan x="285.70" textLength="43.03" lengthAdjust="spacingAndGlyphs">Inframe deletion</tspan></text>
<rect x="278" y="299.1" width="4.5" height="4.5" fill="#6b2082"/>
<text y="303.50" font-size="5.9" fill="#262626" stroke="#262626" stroke-width="0.1"><tspan x="285.70" textLength="34.68" lengthAdjust="spacingAndGlyphs">Synonymous</tspan></text>
<rect x="334.5" y="269.6" width="4.5" height="4.5" fill="#fa8e0a"/>
<text y="274.00" font-size="5.9" fill="#262626" stroke="#262626" stroke-width="0.1"><tspan x="342.20" textLength="28.34" lengthAdjust="spacingAndGlyphs">Frameshift</tspan></text>
<rect x="334.5" y="279.3" width="4.5" height="4.5" fill="#fcc118"/>
<text y="283.70" font-size="5.9" fill="#262626" stroke="#262626" stroke-width="0.1"><tspan x="342.20" textLength="21.01" lengthAdjust="spacingAndGlyphs">Splicing</tspan></text>
<rect x="334.5" y="289.1" width="4.5" height="4.5" fill="#3aa648"/>
<text y="293.50" font-size="5.9" fill="#262626" stroke="#262626" stroke-width="0.1"><tspan x="342.20" textLength="24.01" lengthAdjust="spacingAndGlyphs">Start-lost</tspan></text>
<rect x="334.5" y="299.1" width="4.5" height="4.5" fill="#c8102e"/>
<text y="303.50" font-size="5.9" fill="#262626" stroke="#262626" stroke-width="0.1"><tspan x="342.20" textLength="16.67" lengthAdjust="spacingAndGlyphs">Delins</tspan></text>
</svg>
<div class="frame"></div>
</body></html>
